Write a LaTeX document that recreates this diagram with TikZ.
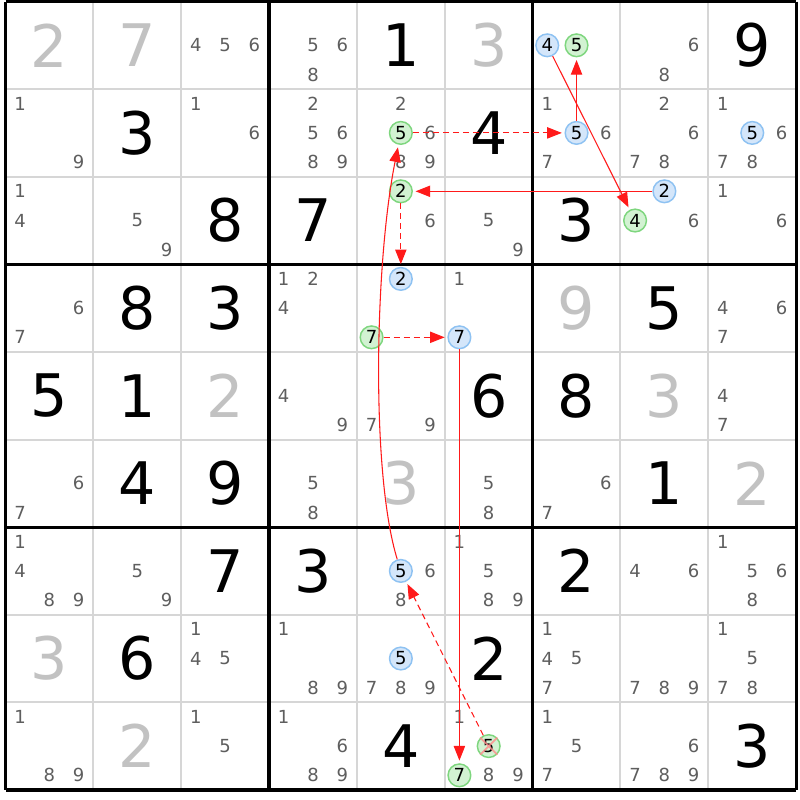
\documentclass[tikz,border=0pt]{standalone}
\usepackage{fontspec}
\setmainfont{DejaVu Sans}
\usetikzlibrary{arrows.meta,calc}
\definecolor{candColor}{HTML}{5E5E5E}
\definecolor{clueColor}{HTML}{C2C2C2}
\definecolor{gridColor}{HTML}{D6D6D6}
\definecolor{blueFill}{HTML}{D4E6FA}
\definecolor{blueEdge}{HTML}{8EC2F2}
\definecolor{greenFill}{HTML}{D2F2D2}
\definecolor{greenEdge}{HTML}{7ED67E}
\definecolor{linkColor}{HTML}{FF1A1A}
\definecolor{crossColor}{HTML}{FF8A8A}

% candidates of one cell: [style]{column}{row}{digits}
\newcommand{\candsAt}[4][cand]{%
  \foreach \d in {#4}{%
    \pgfmathsetmacro\cx{#2-1+(2*mod(\d-1,3)+1)/6}%
    \pgfmathsetmacro\cy{#3-1+(2*int((\d-1)/3)+1)/6}%
    \node[#1] (r#3c#2d\d) at (\cx,\cy) {\d};}}

\begin{document}
\begin{tikzpicture}[%
    x=65.89pt,y=-65.7pt,>={Triangle[length=11pt,width=8.5pt]}]
    \tikzstyle{thinLine}=[draw=gridColor,line width=1.5pt]
    \tikzstyle{thickLine}=[draw=black,line width=2.4pt]
    \tikzstyle{cand}=[text=candColor,font=\fontsize{13.5}{13.5}\selectfont,inner sep=0pt]
    \tikzstyle{clue}=[text=clueColor,font=\fontsize{44}{44}\selectfont,inner sep=0pt]
    \tikzstyle{solved}=[clue,text=black]
    \tikzstyle{onBlue}=[cand,text=black,circle,minimum size=17pt,%
      fill=blueFill,draw=blueEdge,line width=1.1pt]
    \tikzstyle{onGreen}=[onBlue,fill=greenFill,draw=greenEdge]
    \tikzstyle{strongLink}=[draw=linkColor,line width=0.8pt,shorten >=2pt,->]
    \tikzstyle{weakLink}=[strongLink,dash pattern=on 4.5pt off 3pt]
    \useasboundingbox (-4.125pt,1.125pt) rectangle (595.875pt,-598.875pt);
    \fill[white] (-4.125pt,1.125pt) rectangle (595.875pt,-598.875pt);
    % Grid
    \foreach \i in {1,2,4,5,7,8} {
      \draw[thinLine] (\i,0) -- (\i,9);
      \draw[thinLine] (0,\i) -- (9,\i);
    }
    \foreach \i in {0,3,6,9} {
      \draw[thickLine] (\i,0) -- (\i,9);
      \draw[thickLine] (0,\i) -- (9,\i);
    }
    % Row 1
    \node (r1c1) [clue] at (0.5,0.5) {2};
    \node (r1c2) [clue] at (1.5,0.5) {7};
    \candsAt{3}{1}{4,5,6}
    \candsAt{4}{1}{5,6,8}
    \node (r1c5) [solved] at (4.5,0.5) {1};
    \node (r1c6) [clue] at (5.5,0.5) {3};
    \candsAt[onBlue]{7}{1}{4}
    \candsAt[onGreen]{7}{1}{5}
    \candsAt{8}{1}{6,8}
    \node (r1c9) [solved] at (8.5,0.5) {9};
    % Row 2
    \candsAt{1}{2}{1,9}
    \node (r2c2) [solved] at (1.5,1.5) {3};
    \candsAt{3}{2}{1,6}
    \candsAt{4}{2}{2,5,6,8,9}
    \candsAt{5}{2}{2,6,8,9}
    \candsAt[onGreen]{5}{2}{5}
    \node (r2c6) [solved] at (5.5,1.5) {4};
    \candsAt{7}{2}{1,6,7}
    \candsAt[onBlue]{7}{2}{5}
    \candsAt{8}{2}{2,6,7,8}
    \candsAt{9}{2}{1,6,7,8}
    \candsAt[onBlue]{9}{2}{5}
    % Row 3
    \candsAt{1}{3}{1,4}
    \candsAt{2}{3}{5,9}
    \node (r3c3) [solved] at (2.5,2.5) {8};
    \node (r3c4) [solved] at (3.5,2.5) {7};
    \candsAt{5}{3}{6}
    \candsAt[onGreen]{5}{3}{2}
    \candsAt{6}{3}{5,9}
    \node (r3c7) [solved] at (6.5,2.5) {3};
    \candsAt{8}{3}{6}
    \candsAt[onBlue]{8}{3}{2}
    \candsAt[onGreen]{8}{3}{4}
    \candsAt{9}{3}{1,6}
    % Row 4
    \candsAt{1}{4}{6,7}
    \node (r4c2) [solved] at (1.5,3.5) {8};
    \node (r4c3) [solved] at (2.5,3.5) {3};
    \candsAt{4}{4}{1,2,4}
    \candsAt[onBlue]{5}{4}{2}
    \candsAt[onGreen]{5}{4}{7}
    \candsAt{6}{4}{1}
    \candsAt[onBlue]{6}{4}{7}
    \node (r4c7) [clue] at (6.5,3.5) {9};
    \node (r4c8) [solved] at (7.5,3.5) {5};
    \candsAt{9}{4}{4,6,7}
    % Row 5
    \node (r5c1) [solved] at (0.5,4.5) {5};
    \node (r5c2) [solved] at (1.5,4.5) {1};
    \node (r5c3) [clue] at (2.5,4.5) {2};
    \candsAt{4}{5}{4,9}
    \candsAt{5}{5}{7,9}
    \node (r5c6) [solved] at (5.5,4.5) {6};
    \node (r5c7) [solved] at (6.5,4.5) {8};
    \node (r5c8) [clue] at (7.5,4.5) {3};
    \candsAt{9}{5}{4,7}
    % Row 6
    \candsAt{1}{6}{6,7}
    \node (r6c2) [solved] at (1.5,5.5) {4};
    \node (r6c3) [solved] at (2.5,5.5) {9};
    \candsAt{4}{6}{5,8}
    \node (r6c5) [clue] at (4.5,5.5) {3};
    \candsAt{6}{6}{5,8}
    \candsAt{7}{6}{6,7}
    \node (r6c8) [solved] at (7.5,5.5) {1};
    \node (r6c9) [clue] at (8.5,5.5) {2};
    % Row 7
    \candsAt{1}{7}{1,4,8,9}
    \candsAt{2}{7}{5,9}
    \node (r7c3) [solved] at (2.5,6.5) {7};
    \node (r7c4) [solved] at (3.5,6.5) {3};
    \candsAt{5}{7}{6,8}
    \candsAt[onBlue]{5}{7}{5}
    \candsAt{6}{7}{1,5,8,9}
    \node (r7c7) [solved] at (6.5,6.5) {2};
    \candsAt{8}{7}{4,6}
    \candsAt{9}{7}{1,5,6,8}
    % Row 8
    \node (r8c1) [clue] at (0.5,7.5) {3};
    \node (r8c2) [solved] at (1.5,7.5) {6};
    \candsAt{3}{8}{1,4,5}
    \candsAt{4}{8}{1,8,9}
    \candsAt{5}{8}{7,8,9}
    \candsAt[onBlue]{5}{8}{5}
    \node (r8c6) [solved] at (5.5,7.5) {2};
    \candsAt{7}{8}{1,4,5,7}
    \candsAt{8}{8}{7,8,9}
    \candsAt{9}{8}{1,5,7,8}
    % Row 9
    \candsAt{1}{9}{1,8,9}
    \node (r9c2) [clue] at (1.5,8.5) {2};
    \candsAt{3}{9}{1,5}
    \candsAt{4}{9}{1,6,8,9}
    \node (r9c5) [solved] at (4.5,8.5) {4};
    \candsAt{6}{9}{1,8,9}
    \candsAt[onGreen]{6}{9}{5,7}
    \candsAt{7}{9}{1,5,7}
    \candsAt{8}{9}{6,7,8,9}
    \node (r9c9) [solved] at (8.5,8.5) {3};
    % Eliminated candidate
    \draw[crossColor,line width=1.3pt,opacity=0.8]
      (r9c6d5.north west) -- (r9c6d5.south east)
      (r9c6d5.north east) -- (r9c6d5.south west);
    % Chain
    \draw[weakLink] (r2c5d5) -- (r2c7d5);
    \draw[strongLink] (r2c7d5) -- (r1c7d5);
    \draw[strongLink] (r1c7d4) -- (r3c8d4);
    \draw[strongLink] (r3c8d2) -- (r3c5d2);
    \draw[weakLink] (r3c5d2) -- (r4c5d2);
    \draw[weakLink] (r4c5d7) -- (r4c6d7);
    \draw[strongLink] (r4c6d7) -- (r9c6d7);
    \draw[weakLink] (r9c6d5) -- (r7c5d5);
    \draw[strongLink] (r7c5d5) .. controls (4.16,5.4) and (4.2,3.0) .. (r2c5d5);
\end{tikzpicture}
\end{document}
